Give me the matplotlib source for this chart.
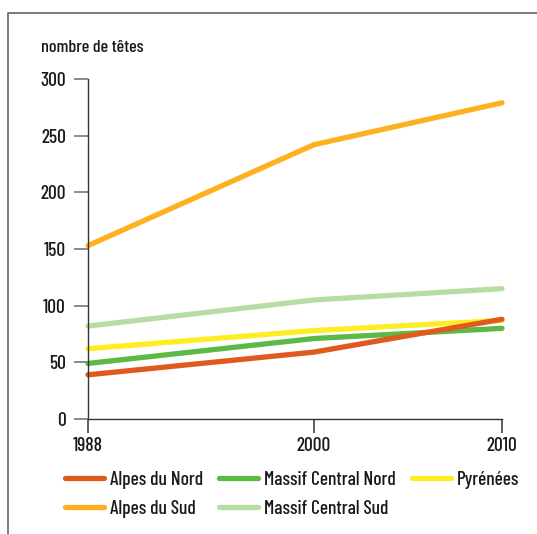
import matplotlib
matplotlib.use("Agg")
import matplotlib.pyplot as plt
from matplotlib.lines import Line2D

years = [1988, 2000, 2010]
series_names = ["Alpes du Nord", "Alpes du Sud", "Massif Central Nord",
                "Massif Central Sud", "Pyrénées"]
alpes_nord = [39, 59, 88]
alpes_sud = [153, 242, 279]
mc_nord = [49, 71, 80]
mc_sud = [82, 105, 115]
pyrenees = [62, 78, 87]
colors = ["#E05A1E", "#FDB11E", "#5BB946", "#B8DDA3", "#FFED23"]
y_ticks = [0, 50, 100, 150, 200, 250, 300]
y_label = "nombre de têtes"

plt.rcParams["font.family"] = ["Barlow Condensed", "DejaVu Sans"]
plt.rcParams["font.weight"] = 500

W, H = 537, 534
fig = plt.figure(figsize=(W / 100, H / 100), dpi=100)
ax = fig.add_axes([88 / W, 1 - 419 / H, (502 - 88) / W, (419 - 79) / H])

values = [alpes_nord, alpes_sud, mc_nord, mc_sud, pyrenees]
# draw from back to front so the orange north line ends on top near 2010
draw_order = [3, 1, 4, 2, 0]
handles = {}
for i in draw_order:
    h, = ax.plot(years, values[i], color=colors[i], lw=3.8,
                 solid_capstyle="round", solid_joinstyle="round",
                 label=series_names[i], clip_on=False)
    handles[i] = h

ax.set_xlim(1988, 2010)
ax.set_ylim(0, 300)
ax.set_xticks(years)
ax.set_yticks(y_ticks)
for s in ["top", "right"]:
    ax.spines[s].set_visible(False)
for s in ["left", "bottom"]:
    ax.spines[s].set_color("#333333")
    ax.spines[s].set_linewidth(1.0)
ax.tick_params(axis="y", length=10, width=1.2, color="#777777", pad=6,
               labelsize=14, labelcolor="#1a1a1a")
ax.tick_params(axis="x", length=10, width=1.2, color="#444444", pad=3,
               labelsize=14, labelcolor="#1a1a1a")
ax.get_xticklines()[-2].set_color("#999999")

fig.text(41 / W, 1 - 47 / H, y_label, fontsize=13, color="#1a1a1a",
         va="center", ha="left")

leg = fig.legend([handles[i] for i in range(5)], series_names,
                 loc="upper left", bbox_to_anchor=(65 / W, 1 - 471 / H),
                 ncol=3, frameon=False, fontsize=14, handlelength=2.0,
                 handletextpad=0.3, columnspacing=0.85, labelspacing=0.55,
                 borderaxespad=0, borderpad=0)
for t in leg.get_texts():
    t.set_color("#1a1a1a")

# outer frame on the top and left edges
fig.add_artist(Line2D([8 / W, 8 / W, 1.0], [0.0, 1 - 13 / H, 1 - 13 / H],
                      transform=fig.transFigure, color="#666666", lw=1.2))

fig.savefig("out.png", dpi=100)
